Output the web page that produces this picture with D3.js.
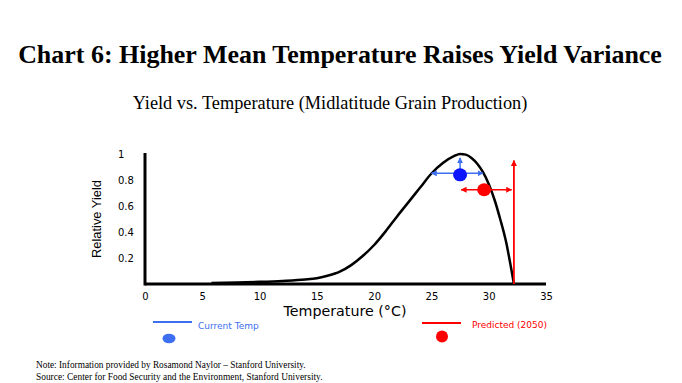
<!DOCTYPE html>
<html><head><meta charset="utf-8">
<script src="https://cdn.jsdelivr.net/npm/d3@7"></script>
<style>body{margin:0;background:#fff}svg{display:block}</style>
</head><body>
<svg id="c" width="682" height="383"></svg>
<script>
const curveTemp  = [5.8, 8, 10, 12, 14, 15, 16, 17, 18, 19, 20, 21, 22, 23, 24, 25, 26, 27, 27.5, 28, 28.5, 29, 29.5, 30, 30.5, 31, 31.5, 32, 32.2];
const curveYield = [0.008, 0.012, 0.017, 0.024, 0.035, 0.045, 0.065, 0.095, 0.145, 0.215, 0.3, 0.405, 0.52, 0.63, 0.74, 0.85, 0.93, 0.985, 1.0, 0.995, 0.97, 0.925, 0.86, 0.77, 0.65, 0.5, 0.33, 0.1, 0.0];
const xTicks = [0, 5, 10, 15, 20, 25, 30, 35];
const yTicks = [0.2, 0.4, 0.6, 0.8, 1];
const yTickLabels = ["0.2", "0.4", "0.6", "0.8", "1"];
// current temperature marker and its ranges
const currentPoint = [27.5, 0.84];
const currentRange = [25.0, 29.5];
const currentUp = [0.84, 0.97];
// predicted 2050 marker and its ranges
const predictedPoint = [29.6, 0.725];
const predictedRange = [27.6, 32.0];
const predictedLimit = [32.2, 0.0, 0.95];

const svg = d3.select("#c");
const x = d3.scaleLinear().domain([0, 35]).range([145, 546]);
const y = d3.scaleLinear().domain([0, 1]).range([284, 154]);

const BLUE_LINE = "#3d6ff0", BLUE_DOT = "#0a14ff", RED = "#ff0000";

function fitText(sel, target) {
  const w = sel.node().getComputedTextLength();
  const fs = parseFloat(sel.attr("font-size"));
  sel.attr("font-size", fs * target / w);
}

// Title
const t = svg.append("text").attr("x", 340).attr("y", 63).attr("text-anchor", "middle")
  .attr("font-family", "Liberation Serif, serif").attr("font-weight", "bold").attr("font-size", 24)
  .text("Chart 6: Higher Mean Temperature Raises Yield Variance");
fitText(t, 644);
const st = svg.append("text").attr("x", 330).attr("y", 109).attr("text-anchor", "middle")
  .attr("font-family", "Liberation Serif, serif").attr("font-size", 16)
  .text("Yield vs. Temperature (Midlatitude Grain Production)");
fitText(st, 395);

// defs markers
const defs = svg.append("defs");
function marker(id, color) {
  defs.append("marker").attr("id", id).attr("viewBox", "0 0 10 10").attr("refX", 9).attr("refY", 5)
    .attr("markerWidth", 6).attr("markerHeight", 6).attr("markerUnits", "userSpaceOnUse").attr("orient", "auto-start-reverse")
    .append("path").attr("d", "M0,0L10,5L0,10Z").attr("fill", color);
}
marker("ab", BLUE_LINE); marker("ar", RED);

// Axes
const gx = svg.append("g").attr("transform", `translate(0,${y(0)})`)
  .call(d3.axisBottom(x).tickValues(xTicks).tickSize(0).tickPadding(9).tickFormat(d3.format("d")));
gx.select(".domain").attr("stroke", "#000").attr("stroke-width", 3).attr("d", `M${x(0)},0H${x(35)}`);
gx.selectAll("text").attr("font-family", "DejaVu Sans, sans-serif").attr("font-size", 10).attr("fill", "#000");

const gy = svg.append("g").attr("transform", `translate(${x(0)},0)`)
  .call(d3.axisLeft(y).tickValues(yTicks).tickSize(0).tickPadding(0).tickFormat((d, i) => yTickLabels[i]));
gy.select(".domain").attr("stroke", "#000").attr("stroke-width", 3).attr("d", `M0,${y(1) - 1}V${y(0) + 1.5}`);
gy.selectAll("text").attr("font-family", "DejaVu Sans, sans-serif").attr("font-size", 10).attr("fill", "#000")
  .attr("text-anchor", "start").attr("x", -27).attr("dy", "0.32em");

// axis titles
const xt = svg.append("text").attr("x", 345).attr("y", 316).attr("text-anchor", "middle")
  .attr("font-family", "DejaVu Sans, sans-serif").attr("font-size", 13).text("Temperature (°C)");
fitText(xt, 123);
const yt = svg.append("text").attr("transform", "translate(101,219) rotate(-90)").attr("text-anchor", "middle")
  .attr("font-family", "Liberation Sans, Arial, sans-serif").attr("font-size", 13).text("Relative Yield");
fitText(yt, 78);

// Curve
const pts = curveTemp.map((d, i) => [d, curveYield[i]]);
svg.append("path").datum(pts).attr("fill", "none").attr("stroke", "#000").attr("stroke-width", 2.5)
  .attr("d", d3.line().x(d => x(d[0])).y(d => y(d[1])).curve(d3.curveMonotoneX));

// Current temp
svg.append("line").attr("x1", x(currentRange[0])).attr("x2", x(currentRange[1]))
  .attr("y1", y(currentPoint[1]) - 1.5).attr("y2", y(currentPoint[1]) - 1.5)
  .attr("stroke", BLUE_LINE).attr("stroke-width", 1.5).attr("marker-end", "url(#ab)").attr("marker-start", "url(#ab)");
svg.append("line").attr("x1", x(currentPoint[0])).attr("x2", x(currentPoint[0]))
  .attr("y1", y(currentUp[0])).attr("y2", y(currentUp[1]))
  .attr("stroke", BLUE_LINE).attr("stroke-width", 1.5).attr("marker-end", "url(#ab)");
svg.append("ellipse").attr("cx", x(currentPoint[0])).attr("cy", y(currentPoint[1])).attr("rx", 7).attr("ry", 6.5).attr("fill", BLUE_DOT);

// Predicted
svg.append("line").attr("x1", x(predictedRange[0])).attr("x2", x(predictedRange[1]))
  .attr("y1", y(predictedPoint[1])).attr("y2", y(predictedPoint[1]))
  .attr("stroke", RED).attr("stroke-width", 1.5).attr("marker-end", "url(#ar)").attr("marker-start", "url(#ar)");
svg.append("line").attr("x1", x(predictedLimit[0])).attr("x2", x(predictedLimit[0]))
  .attr("y1", y(predictedLimit[1])).attr("y2", y(predictedLimit[2]))
  .attr("stroke", RED).attr("stroke-width", 1.8).attr("marker-end", "url(#ar)");
svg.append("ellipse").attr("cx", x(predictedPoint[0])).attr("cy", y(predictedPoint[1])).attr("rx", 7).attr("ry", 6.5).attr("fill", RED);

// Legend
svg.append("line").attr("x1", 153).attr("x2", 192).attr("y1", 322).attr("y2", 322).attr("stroke", BLUE_LINE).attr("stroke-width", 2);
svg.append("text").attr("x", 198).attr("y", 329).attr("font-family", "DejaVu Sans, sans-serif").attr("font-size", 9).attr("fill", BLUE_LINE).text("Current Temp");
svg.append("ellipse").attr("cx", 169).attr("cy", 338.5).attr("rx", 6.5).attr("ry", 4.8).attr("fill", BLUE_LINE);
svg.append("line").attr("x1", 422).attr("x2", 461).attr("y1", 323).attr("y2", 323).attr("stroke", RED).attr("stroke-width", 2);
svg.append("text").attr("x", 472).attr("y", 328).attr("font-family", "DejaVu Sans, sans-serif").attr("font-size", 9).attr("fill", RED).text("Predicted (2050)");
svg.append("ellipse").attr("cx", 442).attr("cy", 336.5).attr("rx", 6).attr("ry", 6).attr("fill", RED);

// Notes
const n1 = svg.append("text").attr("x", 36).attr("y", 368).attr("font-family", "Liberation Serif, serif").attr("font-size", 8)
  .text("Note: Information provided by Rosamond Naylor – Stanford University.");
fitText(n1, 270);
const n2 = svg.append("text").attr("x", 36).attr("y", 380).attr("font-family", "Liberation Serif, serif").attr("font-size", 8)
  .text("Source: Center for Food Security and the Environment, Stanford University.");
fitText(n2, 287);
</script>
</body></html>
